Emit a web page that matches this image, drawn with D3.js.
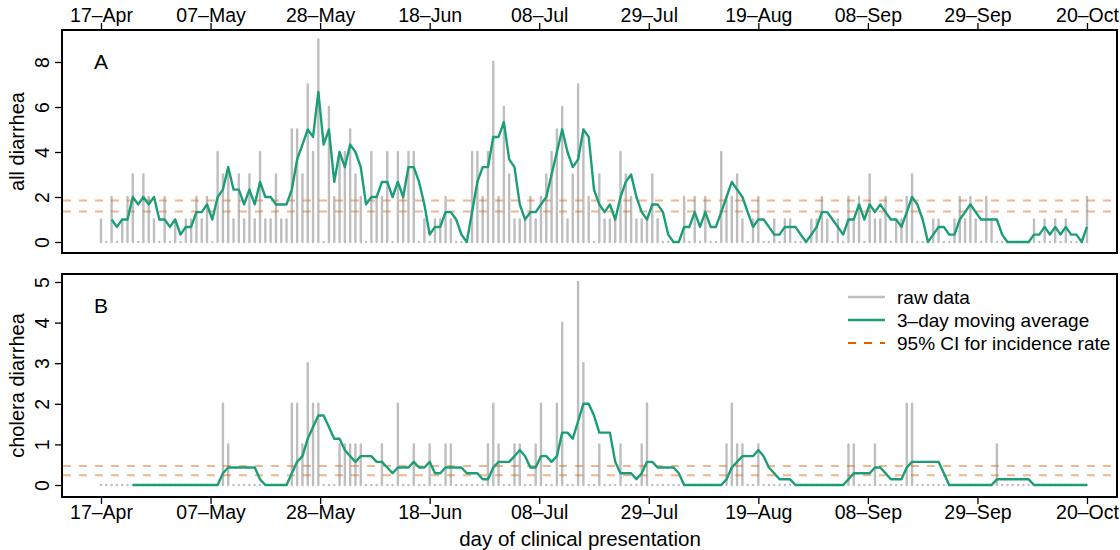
<!DOCTYPE html>
<html>
<head>
<meta charset="utf-8">
<script src="https://cdn.jsdelivr.net/npm/d3@7"></script>
<style>
  body { margin: 0; background: #fff; }
  text { font-family: "Liberation Sans", Arial, sans-serif; fill: #000; }
</style>
</head>
<body>
<svg id="chart" width="1120" height="550"></svg>
<script>
// tick labels, evenly spaced over the 186-day span
const tickLabels = ["17–Apr", "07–May", "28–May", "18–Jun", "08–Jul",
  "29–Jul", "19–Aug", "08–Sep", "29–Sep", "20–Oct"];
const nDays = 186;

// panel A: all diarrhea, daily counts (17-Apr .. 20-Oct)
const allRaw = [
  1,0,2,0,1,2,3,0,3,2, 1,0,2,0,1,0,1,1,2,1, 2,0,4,3,3,1,3,1,3,1,
  4,1,1,3,1,1,5,5,3,7, 4,9,0,6,2,4,4,5,3,2, 0,4,2,2,4,0,4,2,4,4,
  0,1,0,1,1,2,1,0,0,0, 4,4,2,4,8,2,6,3,1,1, 1,2,1,2,3,4,5,6,1,3,
  7,5,2,0,3,1,1,1,4,3, 2,1,1,1,3,1,0,0,0,0, 2,0,2,0,2,0,0,4,2,2,
  3,1,0,1,2,0,0,1,0,1, 1,0,0,0,1,1,2,1,0,1, 0,2,1,2,0,3,1,1,2,0,
  1,1,2,3,0,0,0,1,1,0, 0,1,2,1,2,1,0,2,1,0, 0,0,0,0,0,0,1,0,1,0,
  1,0,1,0,0,0,2
];
const allAvg = [
  null,null,1,0.67,1,1,2,1.67,2,1.67,
  2,1,1,0.67,1,0.33,0.67,0.67,1.33,1.33,
  1.67,1,2,2.33,3.33,2.33,2.33,1.67,2.33,1.67,
  2.67,2,2,1.67,1.67,1.67,2.33,3.67,4.33,5,
  4.67,6.67,4.33,5,2.67,4,3.33,4.33,4,3.33,
  1.67,2,2,2.67,2.67,2,2.67,2,3.33,3.33,
  2.67,1.67,0.33,0.67,0.67,1.33,1.33,1,0.33,0,
  1.33,2.67,3.33,3.33,4.67,4.67,5.33,3.67,3.33,1.67,
  1,1.33,1.33,1.67,2,3,4,5,4,3.33,
  3.67,5,4.67,2.33,1.67,1.33,1.67,1,2,2.67,
  3,2,1.33,1,1.67,1.67,1.33,0.33,0,0,
  0.67,0.67,1.33,0.67,1.33,0.67,0.67,1.33,2,2.67,
  2.33,2,1.33,0.67,1,1,0.67,0.33,0.33,0.67,
  0.67,0.67,0.33,0,0.33,0.67,1.33,1.33,1,0.67,
  0.33,1,1,1.67,1,1.67,1.33,1.67,1.33,1,
  1,0.67,1.33,2,1.67,1,0,0.33,0.67,0.67,
  0.33,0.33,1,1.33,1.67,1.33,1,1,1,1,
  0.33,0,0,0,0,0,0.33,0.33,0.67,0.33,
  0.67,0.33,0.67,0.33,0.33,0,0.67
];
const allCI = [1.36, 1.85];

// panel B: cholera diarrhea
const choleraRaw = [
  0,0,0,0,0,0,0,0,0,0, 0,0,0,0,0,0,0,0,0,0, 0,0,0,2,1,0,0,0,0,0,
  0,0,0,0,0,0,2,2,1,3, 2,2,0,0,0,1,1,1,1,1, 0,0,0,1,0,0,2,0,0,1,
  0,0,1,0,0,1,1,0,0,0, 0,0,0,1,2,1,0,0,1,1, 0,0,1,2,0,0,2,4,0,0,
  5,3,0,0,1,0,0,0,1,0, 0,0,1,2,0,0,0,0,0,0, 0,0,0,0,0,0,0,0,1,2,
  1,1,0,0,1,0,0,0,0,0, 0,0,0,0,0,0,0,0,0,0, 0,1,1,0,0,0,1,0,0,0,
  0,0,2,2,0,0,0,0,0,0, 0,0,0,0,0,0,0,0,0,1, 0,0,0,0,0,0,0,0,0,0,
  0,0,0,0,0,0,0
];
const choleraAvg = [
  null,null,null,null,null,null,0,0,0,0,
  0,0,0,0,0,0,0,0,0,0,
  0,0,0,0.29,0.43,0.43,0.43,0.43,0.43,0.43,
  0.14,0,0,0,0,0,0.29,0.57,0.71,1.14,
  1.43,1.71,1.71,1.43,1.14,1.14,0.86,0.71,0.57,0.71,
  0.71,0.71,0.57,0.57,0.43,0.29,0.43,0.43,0.43,0.57,
  0.43,0.43,0.57,0.29,0.29,0.43,0.43,0.43,0.43,0.29,
  0.29,0.29,0.14,0.14,0.43,0.57,0.57,0.57,0.71,0.86,
  0.71,0.43,0.43,0.71,0.71,0.57,0.71,1.29,1.29,1.14,
  1.57,2,2,1.71,1.29,1.29,1.29,0.57,0.29,0.29,
  0.29,0.14,0.29,0.57,0.57,0.43,0.43,0.43,0.43,0.29,
  0,0,0,0,0,0,0,0,0.14,0.43,
  0.57,0.71,0.71,0.71,0.86,0.71,0.43,0.29,0.14,0.14,
  0.14,0,0,0,0,0,0,0,0,0,
  0,0.14,0.29,0.29,0.29,0.29,0.43,0.43,0.29,0.14,
  0.14,0.14,0.43,0.57,0.57,0.57,0.57,0.57,0.57,0.29,
  0,0,0,0,0,0,0,0,0,0.14,
  0.14,0.14,0.14,0.14,0.14,0.14,0,0,0,0,
  0,0,0,0,0,0,0
];
const choleraCI = [0.24, 0.47];

const legendLabels = ["raw data", "3–day moving average", "95% CI for incidence rate"];

const GRAY = "#bebebe", GREEN = "#1b9e77", ORANGE = "#d95f02";
const FONT = 19.5;

const svg = d3.select("#chart");
const frameL = 62, frameR = 1117;

const x = d3.scaleLinear().domain([0, nDays]).range([101, 1087]);
const tickDays = d3.range(tickLabels.length).map(i => i * nDays / (tickLabels.length - 1));

function panel(opt) {
  const g = svg.append("g");
  const y = d3.scaleLinear().domain([0, opt.ymax]).range([opt.y0, opt.yTop]);

  // raw daily counts as spikes (round caps make zero days show as dots)
  g.append("g").selectAll("line")
    .data(opt.raw)
    .enter().append("line")
    .attr("x1", (d, i) => x(i)).attr("x2", (d, i) => x(i))
    .attr("y1", y(0)).attr("y2", d => y(d))
    .attr("stroke", GRAY).attr("stroke-width", 2.4)
    .attr("stroke-linecap", "round");

  // confidence interval for incidence rate
  g.append("g").selectAll("line")
    .data(opt.ci)
    .enter().append("line")
    .attr("x1", frameL + 1).attr("x2", frameR - 1)
    .attr("y1", d => y(d)).attr("y2", d => y(d))
    .attr("stroke", ORANGE).attr("stroke-opacity", 0.45)
    .attr("stroke-width", 2).attr("stroke-dasharray", "8,8");

  const line = d3.line()
    .defined(d => d != null)
    .x((d, i) => x(i))
    .y(d => y(d));
  g.append("path")
    .datum(opt.avg)
    .attr("d", line)
    .attr("fill", "none")
    .attr("stroke", GREEN).attr("stroke-width", 2.4)
    .attr("stroke-linejoin", "round");

  // frame
  g.append("rect")
    .attr("x", frameL).attr("y", opt.frameTop)
    .attr("width", frameR - frameL).attr("height", opt.frameBot - opt.frameTop)
    .attr("fill", "none").attr("stroke", "#000").attr("stroke-width", 2);

  // y axis
  const yAxis = g.append("g").attr("transform", `translate(${frameL},0)`)
    .call(d3.axisLeft(y).tickValues(opt.yTicks).tickSize(7).tickFormat(d3.format("d")));
  yAxis.select(".domain").remove();
  yAxis.selectAll(".tick line").attr("stroke-width", 1.3);
  yAxis.selectAll(".tick text").remove();
  yAxis.selectAll(".tick").append("text")
    .attr("transform", "translate(-13,0) rotate(-90)")
    .attr("text-anchor", "middle")
    .attr("font-size", FONT)
    .text(d => d);

  g.append("text")
    .attr("transform", `translate(24,${(opt.frameTop + opt.frameBot) / 2}) rotate(-90)`)
    .attr("text-anchor", "middle").attr("font-size", 20)
    .text(opt.title);

  g.append("text")
    .attr("x", 94).attr("y", opt.frameTop + 39)
    .attr("font-size", 21)
    .text(opt.tag);

  return g;
}

panel({ raw: allRaw, avg: allAvg, ci: allCI, ymax: 8, y0: 242, yTop: 62,
  yTicks: [0, 2, 4, 6, 8], frameTop: 30, frameBot: 253, title: "all diarrhea", tag: "A" });
panel({ raw: choleraRaw, avg: choleraAvg, ci: choleraCI, ymax: 5, y0: 485, yTop: 282,
  yTicks: [0, 1, 2, 3, 4, 5], frameTop: 274, frameBot: 497, title: "cholera diarrhea", tag: "B" });

// x axes: top of panel A, bottom of panel B
const xTop = svg.append("g").attr("transform", "translate(0,30)")
  .call(d3.axisTop(x).tickValues(tickDays).tickSize(7).tickFormat((d, i) => tickLabels[i]));
const xBot = svg.append("g").attr("transform", "translate(0,497)")
  .call(d3.axisBottom(x).tickValues(tickDays).tickSize(7).tickFormat((d, i) => tickLabels[i]));
[xTop, xBot].forEach(a => {
  a.select(".domain").remove();
  a.selectAll(".tick line").attr("stroke-width", 1.3);
  a.selectAll(".tick text").attr("font-size", FONT)
    .attr("font-family", "Liberation Sans, Arial, sans-serif").attr("fill", "#000");
});
xTop.selectAll(".tick text").attr("dy", null).attr("y", -8);
xBot.selectAll(".tick text").attr("dy", "0.71em").attr("y", 8);

svg.append("text")
  .attr("x", 580).attr("y", 546)
  .attr("text-anchor", "middle").attr("font-size", 20.5)
  .text("day of clinical presentation");

// legend
const legend = svg.append("g").attr("transform", "translate(848,297)");
const styles = [
  { stroke: GRAY, dash: null, w: 2.4 },
  { stroke: GREEN, dash: null, w: 2.4 },
  { stroke: ORANGE, dash: "8,8", w: 2 }
];
legend.selectAll("line")
  .data(legendLabels)
  .enter().append("line")
  .attr("x1", 0).attr("x2", 37)
  .attr("y1", (d, i) => i * 23).attr("y2", (d, i) => i * 23)
  .attr("stroke", (d, i) => styles[i].stroke)
  .attr("stroke-width", (d, i) => styles[i].w)
  .attr("stroke-dasharray", (d, i) => styles[i].dash);
legend.selectAll("text")
  .data(legendLabels)
  .enter().append("text")
  .attr("x", 49).attr("y", (d, i) => i * 23)
  .attr("dy", "0.35em")
  .attr("font-size", 19)
  .text(d => d);
</script>
</body>
</html>
